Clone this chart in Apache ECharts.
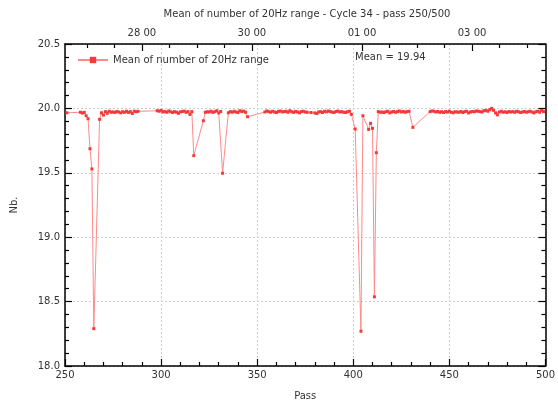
<!DOCTYPE html>
<html><head><meta charset="utf-8">
<script src="https://cdn.jsdelivr.net/npm/echarts@6/dist/echarts.min.js"></script>
<style>html,body{margin:0;padding:0;background:#fff}#c{width:558px;height:406px}</style>
</head><body><div id="c"></div>
<script>
const titleText = 'Mean of number of 20Hz range - Cycle 34 - pass 250/500';
const seriesName = 'Mean of number of 20Hz range';
const meanLabel = 'Mean = 19.94';
const xTicks = [250, 300, 350, 400, 450, 500];
const yTicks = [18.0, 18.5, 19.0, 19.5, 20.0, 20.5];
const topTickHours = [0, 48, 96, 144];
const topTickLabels = ['28 00', '30 00', '01 00', '03 00'];
const topMinorHours = [-24, -12, 12, 24, 36, 60, 72, 84, 108, 120, 132, 156, 168];

// [pass, mean value]
const points = [
[251,19.966],
[258,19.970],[259,19.964],[260,19.969],[261,19.943],[262,19.920],[263,19.687],[264,19.530],[265,18.290],
[268,19.915],[269,19.966],[270,19.948],
[271,19.975],[272,19.962],[273,19.978],[274,19.970],[275,19.973],[276,19.968],[277,19.976],[278,19.972],[279,19.965],
[280,19.974],[281,19.970],[282,19.978],[283,19.969],[284,19.975],[285,19.960],[286,19.978],[287,19.974],[288,19.977],
[298,19.982],[299,19.978],[300,19.985],[301,19.972],[302,19.976],[303,19.970],[304,19.980],[305,19.974],[306,19.968],
[307,19.975],[308,19.971],[309,19.962],[310,19.973],[311,19.976],[312,19.979],[313,19.970],[314,19.975],[315,19.953],[316,19.975],
[317,19.633],
[322,19.904],
[323,19.970],[324,19.974],[325,19.972],[326,19.978],[327,19.969],[328,19.975],[329,19.982],[330,19.965],[331,19.976],
[332,19.497],
[335,19.966],[336,19.975],[337,19.970],[338,19.978],[339,19.972],[340,19.968],[341,19.982],[342,19.975],[343,19.979],[344,19.970],
[345,19.935],
[354,19.972],[355,19.980],[356,19.975],[357,19.970],[358,19.978],[359,19.972],[360,19.968],[361,19.976],[362,19.980],
[363,19.973],[364,19.975],[365,19.978],[366,19.970],[367,19.982],[368,19.974],[369,19.969],[370,19.977],[371,19.972],
[372,19.966],[373,19.975],[374,19.978],[375,19.972],[376,19.970],[378,19.968],[380,19.965],[381,19.960],[382,19.972],
[383,19.975],[384,19.968],[385,19.978],[386,19.973],[387,19.980],[388,19.975],[389,19.971],[390,19.968],[391,19.976],
[392,19.979],[393,19.972],[394,19.975],[395,19.970],[396,19.968],[397,19.974],[398,19.978],
[399,19.954],[401,19.840],[404,18.270],[405,19.943],[408,19.837],[409,19.884],[410,19.845],[411,18.537],[412,19.656],
[413,19.975],[414,19.970],[415,19.972],[416,19.968],[417,19.974],[418,19.978],[419,19.965],[420,19.972],[421,19.976],
[422,19.970],[423,19.975],[424,19.980],[425,19.972],[426,19.976],[427,19.970],[428,19.975],[429,19.978],
[431,19.853],
[440,19.975],[441,19.980],[442,19.978],[443,19.972],[444,19.976],[445,19.970],[446,19.974],[447,19.968],[448,19.975],
[449,19.972],[450,19.978],[451,19.970],[452,19.966],[453,19.974],[454,19.972],[455,19.970],[456,19.976],[457,19.968],
[458,19.975],[459,19.978],[460,19.965],[461,19.972],[462,19.976],[463,19.974],[464,19.980],[465,19.978],[466,19.975],
[467,19.972],[468,19.982],[469,19.985],[470,19.978],[471,19.990],[472,20.000],[473,19.985],[474,19.965],[475,19.950],
[476,19.972],[477,19.978],[478,19.970],[479,19.974],[480,19.968],[481,19.976],[482,19.972],[483,19.975],[484,19.970],
[485,19.978],[486,19.974],[487,19.968],[488,19.972],[489,19.976],[490,19.970],[491,19.975],[492,19.978],[493,19.972],
[494,19.965],[495,19.974],[496,19.978],[497,19.970],[498,19.985],[499,19.975]
];

const FONT = 'DejaVu Sans';
const TXT = '#333';
const chart = echarts.init(document.getElementById('c'), null, {renderer: 'canvas'});
const axisLine = {show: true, onZero: false, lineStyle: {color: '#000', width: 1.5}};
const dashed = {show: true, lineStyle: {color: '#cfcfcf', type: [2, 2], width: 1}};
chart.setOption({
  animation: false,
  backgroundColor: '#fff',
  textStyle: {fontFamily: FONT},
  grid: {left: 65, right: 9, top: 44, bottom: 39, containLabel: false},
  legend: {
    left: 72, top: 50, itemWidth: 30, itemHeight: 8, itemGap: 8,
    textStyle: {fontSize: 10, color: TXT, fontFamily: FONT},
    data: [seriesName]
  },
  graphic: [
    {type: 'text', x: 307, y: 14, style: {text: titleText, textAlign: 'center', textVerticalAlign: 'middle', fontSize: 10, fontFamily: FONT, fill: TXT}},
    {type: 'text', x: 355, y: 57, style: {text: meanLabel, textAlign: 'left', textVerticalAlign: 'middle', fontSize: 10, fontFamily: FONT, fill: TXT}}
  ],
  xAxis: [
    {
      type: 'value', min: xTicks[0], max: xTicks[xTicks.length - 1], interval: 50, position: 'bottom',
      axisLine: axisLine,
      axisTick: {show: true, inside: true, length: 7, lineStyle: {color: '#000', width: 1.2}},
      minorTick: {show: true, splitNumber: 5, length: 4, lineStyle: {color: '#000', width: 1.2}},
      splitLine: dashed,
      axisLabel: {fontSize: 10, color: TXT, fontFamily: FONT, margin: 4},
      name: 'Pass', nameLocation: 'middle', nameGap: 25,
      nameTextStyle: {fontSize: 10, color: TXT, fontFamily: FONT}
    },
    {
      type: 'value', min: -33.5, max: 176, position: 'top',
      axisLine: axisLine,
      axisTick: {show: true, inside: true, length: 7, customValues: topTickHours, lineStyle: {color: '#000', width: 1.2}},
      axisLabel: {show: true, fontSize: 10, color: TXT, fontFamily: FONT, margin: 6, customValues: topTickHours,
        formatter: function (v) { const i = topTickHours.indexOf(v); return i >= 0 ? topTickLabels[i] : ''; }},
      splitLine: {show: false}
    },
    {
      type: 'value', min: -33.5, max: 176, position: 'top',
      axisLine: {show: false, onZero: false},
      axisTick: {show: true, inside: true, length: 4, customValues: topMinorHours, lineStyle: {color: '#000', width: 1.2}},
      axisLabel: {show: false},
      splitLine: {show: false}
    }
  ],
  yAxis: [
    {
      type: 'value', min: yTicks[0], max: yTicks[yTicks.length - 1], interval: 0.5, position: 'left',
      axisLine: axisLine,
      axisTick: {show: true, inside: true, length: 7, lineStyle: {color: '#000', width: 1.2}},
      minorTick: {show: true, splitNumber: 5, length: 4, lineStyle: {color: '#000', width: 1.2}},
      splitLine: dashed,
      axisLabel: {fontSize: 10, color: TXT, fontFamily: FONT, margin: 5, formatter: v => v.toFixed(1)},
      name: 'Nb.', nameLocation: 'middle', nameGap: 46,
      nameTextStyle: {fontSize: 10, color: TXT, fontFamily: FONT}
    },
    {
      type: 'value', min: yTicks[0], max: yTicks[yTicks.length - 1], interval: 0.5, position: 'right',
      axisLine: axisLine,
      axisTick: {show: true, inside: true, length: 7, lineStyle: {color: '#000', width: 1.2}},
      minorTick: {show: true, splitNumber: 5, length: 4, lineStyle: {color: '#000', width: 1.2}},
      splitLine: {show: false},
      axisLabel: {show: false}
    }
  ],
  series: [{
    name: seriesName, type: 'line', xAxisIndex: 0, yAxisIndex: 0,
    data: points, symbol: 'rect', symbolSize: 3, showSymbol: true,
    itemStyle: {color: '#f23a3a'},
    lineStyle: {color: '#ff8a8a', width: 1},
    emphasis: {disabled: true}
  }]
});
</script></body></html>
